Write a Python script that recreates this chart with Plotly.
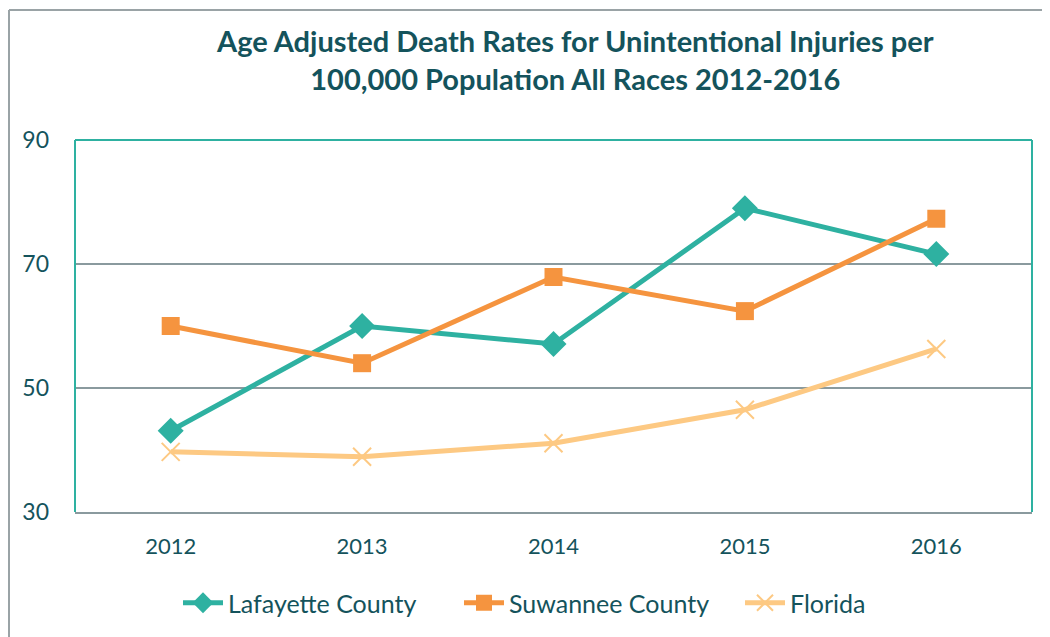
import plotly.graph_objects as go

years = ["2012", "2013", "2014", "2015", "2016"]
lafayette = [43.1, 60.0, 57.1, 79.0, 71.6]
suwannee = [60.0, 54.0, 67.9, 62.4, 77.3]
florida = [39.7, 38.9, 41.1, 46.5, 56.3]

text_color = "#14535C"
font_family = "Lato, 'Open Sans', sans-serif"

# page body has an 8px margin, so the figure is made 8px smaller
W, H = 1042, 629
ML, MR, MT, MB = 67, 18, 132, 125
PW, PH = W - ML - MR, H - MT - MB


def px_x(page_x):
    return (page_x - 8 - ML) / PW


def px_y(page_y):
    return (H - MB - (page_y - 8)) / PH


fig = go.Figure()

fig.add_trace(go.Scatter(
    x=years, y=lafayette, name="Lafayette County",
    mode="lines+markers",
    line=dict(color="#2EB1A1", width=5),
    marker=dict(symbol="diamond", size=20, color="#2EB1A1"),
))
fig.add_trace(go.Scatter(
    x=years, y=suwannee, name="Suwannee County",
    mode="lines+markers",
    line=dict(color="#F5943F", width=5),
    marker=dict(symbol="square", size=18, color="#F5943F"),
))
fig.add_trace(go.Scatter(
    x=years, y=florida, name="Florida",
    mode="lines+markers",
    line=dict(color="#FDC983", width=5),
    marker=dict(symbol="x-thin", size=18, line=dict(color="#FDC983", width=2)),
))

fig.update_layout(
    width=W,
    height=H,
    paper_bgcolor="white",
    plot_bgcolor="white",
    font=dict(family=font_family, color=text_color, size=22),
    margin=dict(l=ML, r=MR, t=MT, b=MB, autoexpand=False),
    xaxis=dict(
        type="category",
        range=[-0.5, 4.5],
        showgrid=False,
        showline=True,
        linecolor="#8A9A9E",
        linewidth=2,
        ticks="",
        ticklabelstandoff=14,
        tickfont=dict(size=22),
    ),
    yaxis=dict(
        range=[30, 90],
        tickvals=[30, 50, 70, 90],
        showgrid=True,
        gridcolor="#8A9A9E",
        gridwidth=1.5,
        zeroline=False,
        showline=False,
        ticks="",
        ticklabelstandoff=25,
        tickfont=dict(size=23),
    ),
    legend=dict(
        orientation="h",
        x=px_x(178),
        xanchor="left",
        y=px_y(603),
        yanchor="middle",
        font=dict(size=25),
        entrywidth=226,
        itemwidth=40,
    ),
    showlegend=True,
)

fig.add_annotation(
    text="<b>Age Adjusted Death Rates for Unintentional Injuries per<br>100,000 Population All Races 2012-2016</b>",
    xref="paper", yref="paper",
    x=px_x(575), y=px_y(60),
    xanchor="center", yanchor="middle",
    showarrow=False,
    font=dict(size=29, family=font_family, color=text_color),
)

# teal frame around the plot area (left, top, right)
fig.add_shape(type="line", xref="paper", yref="paper", x0=0, x1=0, y0=0, y1=1,
              line=dict(color="#2EB1A1", width=2))
fig.add_shape(type="line", xref="paper", yref="paper", x0=0, x1=1, y0=1, y1=1,
              line=dict(color="#2EB1A1", width=2))
fig.add_shape(type="line", xref="paper", yref="paper", x0=1, x1=1, y0=0, y1=1,
              line=dict(color="#2EB1A1", width=2))

# outer chart border (left and top visible)
bx = px_x(9)
by = px_y(10)
fig.add_shape(type="line", xref="paper", yref="paper",
              x0=bx, x1=bx, y0=px_y(700), y1=by,
              line=dict(color="#9AA3A6", width=2))
fig.add_shape(type="line", xref="paper", yref="paper",
              x0=bx, x1=px_x(1100), y0=by, y1=by,
              line=dict(color="#9AA3A6", width=2))

fig.write_html("out.html")
